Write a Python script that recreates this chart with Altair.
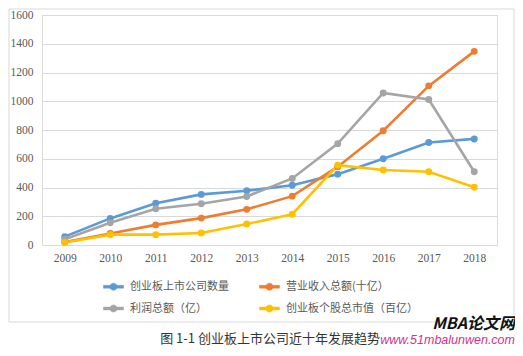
import altair as alt
import pandas as pd

years = ["2009", "2010", "2011", "2012", "2013", "2014", "2015", "2016", "2017", "2018"]
series_names = ["创业板上市公司数量", "营业收入总额(十亿）", "利润总额（亿）", "创业板个股总市值（百亿）"]
count_vals = [58, 185, 290, 352, 377, 416, 493, 600, 713, 738]
revenue_vals = [20, 80, 140, 187, 248, 340, 545, 795, 1107, 1347]
profit_vals = [40, 155, 252, 287, 338, 463, 705, 1058, 1012, 510]
cap_vals = [17, 72, 72, 84, 146, 214, 555, 522, 510, 402]
colors = ["#5B9BD5", "#ED7D31", "#A5A5A5", "#FFC000"]
y_ticks = [0, 200, 400, 600, 800, 1000, 1200, 1400, 1600]

rows = []
for name, vals in zip(series_names, [count_vals, revenue_vals, profit_vals, cap_vals]):
    for yr, v in zip(years, vals):
        rows.append({"year": yr, "series": name, "value": v})
df = pd.DataFrame(rows)

W, H = 455, 230

sym_path = ("M-1,-0.14H1V0.14H-1Z "
            "M0.36,0A0.36,0.36 0 1,1 -0.36,0A0.36,0.36 0 1,1 0.36,0Z")

cscale = alt.Scale(domain=series_names, range=colors)
legend_color = alt.Color(
    "series:N", scale=cscale,
    legend=alt.Legend(
        title=None, orient="none", legendX=61, legendY=261, columns=2,
        direction="horizontal",
        columnPadding=29, rowPadding=6, symbolType=sym_path, symbolSize=400,
        symbolStrokeWidth=0.5, labelOffset=6, labelFont="Noto Sans CJK SC",
        labelFontSize=11, labelColor="#595959", labelLimit=300,
    ),
)

x = alt.X("year:O", sort=years,
          scale=alt.Scale(type="point", padding=0.5),
          axis=alt.Axis(title=None, labelAngle=0, ticks=False, domain=False,
                        labelFont="Liberation Serif", labelFontSize=11.5,
                        labelColor="#595959", labelPadding=7, grid=False))
y = alt.Y("value:Q", scale=alt.Scale(domain=[0, 1600], nice=False),
          axis=alt.Axis(title=None, values=y_ticks, ticks=False, domain=False,
                        format="d",
                        labelFont="Liberation Serif", labelFontSize=11.5,
                        labelColor="#595959", labelPadding=9,
                        gridColor="#d9d9d9", gridWidth=1))

base = alt.Chart(df)
lines = base.mark_line(strokeWidth=2.6).encode(x=x, y=y, color=legend_color)
points = base.mark_point(filled=True, size=48, opacity=1).encode(
    x=x, y=y, color=legend_color)

frame = alt.Chart(pd.DataFrame({"a": [0]})).mark_rect(
    fill=None, stroke="#d9d9d9", strokeWidth=1).encode(
    x=alt.value(-33), x2=alt.value(472), y=alt.value(-6), y2=alt.value(307))

caption = alt.Chart(pd.DataFrame({"t": ["图 1-1 创业板上市公司近十年发展趋势"]})).mark_text(
    font="Noto Sans CJK SC", fontSize=13, color="#333333", align="center",
    baseline="middle").encode(text="t:N", x=alt.value(228), y=alt.value(324))

wm1 = alt.Chart(pd.DataFrame({"t": ["MBA论文网"]})).mark_text(
    font="Noto Sans CJK SC", fontSize=16, fontWeight="bold", fontStyle="italic",
    color="#111111", align="right", baseline="middle").encode(
    text="t:N", x=alt.value(473), y=alt.value(309))
wm2 = alt.Chart(pd.DataFrame({"t": ["www.51mbalunwen.com"]})).mark_text(
    font="Liberation Sans", fontSize=12.5, fontStyle="italic",
    color="#d0358a", align="right", baseline="middle").encode(
    text="t:N", x=alt.value(473), y=alt.value(325))

chart = alt.layer(frame, lines, points, caption, wm1, wm2).properties(
    width=W, height=H,
    autosize=alt.AutoSizeParams(type="none"),
    padding={"left": 34, "top": 7, "right": 18, "bottom": 103},
).configure_view(stroke=None).configure(background="white")

chart.save("out.html", embed_options={"renderer": "svg", "actions": False})
